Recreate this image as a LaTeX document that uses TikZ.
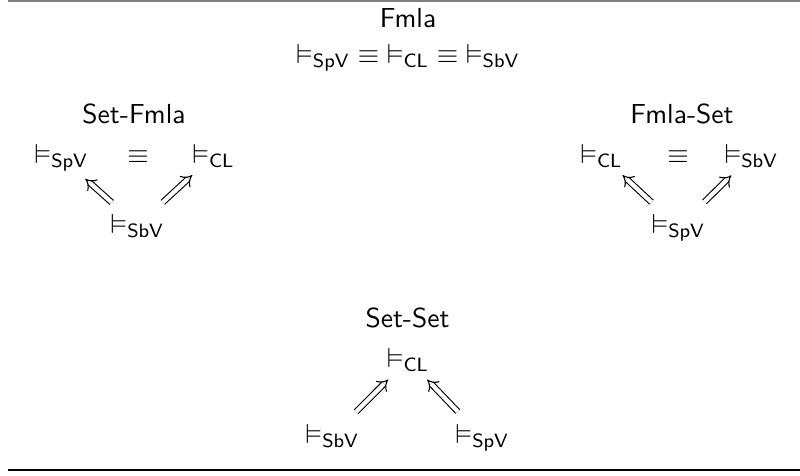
\documentclass[tikz,border=0pt]{standalone}
\usepackage{amssymb}
\usetikzlibrary{arrows.meta}
\newcommand{\ent}[1]{{\vDash_{\mathsf{#1}}}}
\tikzset{
  lbl/.style={anchor=base,inner sep=0pt},
  impl/.style={double,double equal sign distance,-{Implies},shorten <=6pt,shorten >=4pt},
}

\begin{document}
\begin{tikzpicture}[x=0.3636pt,y=-0.3636pt,font=\sffamily]
\useasboundingbox (0,0) rectangle (800,475);
% rules
\draw[gray,line width=1.2pt] (8,0) -- (800,0);
\draw[line width=0.8pt] (8,470) -- (800,470);
% Fmla
\node[lbl] (fmla) at (408,27) {Fmla};
\node[lbl] (fmlaeq) at (408,63) {$\ent{SpV}\equiv\ent{CL}\equiv\ent{SbV}$};
% Set-Fmla
\node[lbl] (sf) at (134,123) {Set-Fmla};
\node[lbl] (sfspv) at (61.5,163) {$\ent{SpV}$};
\node[lbl] (sfeq) at (138,163) {$\equiv$};
\node[lbl] (sfcl) at (213.5,163) {$\ent{CL}$};
\node[lbl] (sfsbv) at (137.5,233) {$\ent{SbV}$};
\draw[impl] (sfsbv) -- (sfspv);
\draw[impl] (sfsbv) -- (sfcl);
% Fmla-Set
\node[lbl] (fs) at (682,123) {Fmla-Set};
\node[lbl] (fscl) at (601.5,163) {$\ent{CL}$};
\node[lbl] (fseq) at (678,163) {$\equiv$};
\node[lbl] (fssbv) at (751.5,163) {$\ent{SbV}$};
\node[lbl] (fsspv) at (678.5,233) {$\ent{SpV}$};
\draw[impl] (fsspv) -- (fscl);
\draw[impl] (fsspv) -- (fssbv);
% Set-Set
\node[lbl] (ss) at (407.5,327) {Set-Set};
\node[lbl] (sscl) at (408,367) {$\ent{CL}$};
\node[lbl] (sssbv) at (332.5,443) {$\ent{SbV}$};
\node[lbl] (ssspv) at (482.5,443) {$\ent{SpV}$};
\draw[impl] (sssbv) -- (sscl);
\draw[impl] (ssspv) -- (sscl);
\end{tikzpicture}
\end{document}
